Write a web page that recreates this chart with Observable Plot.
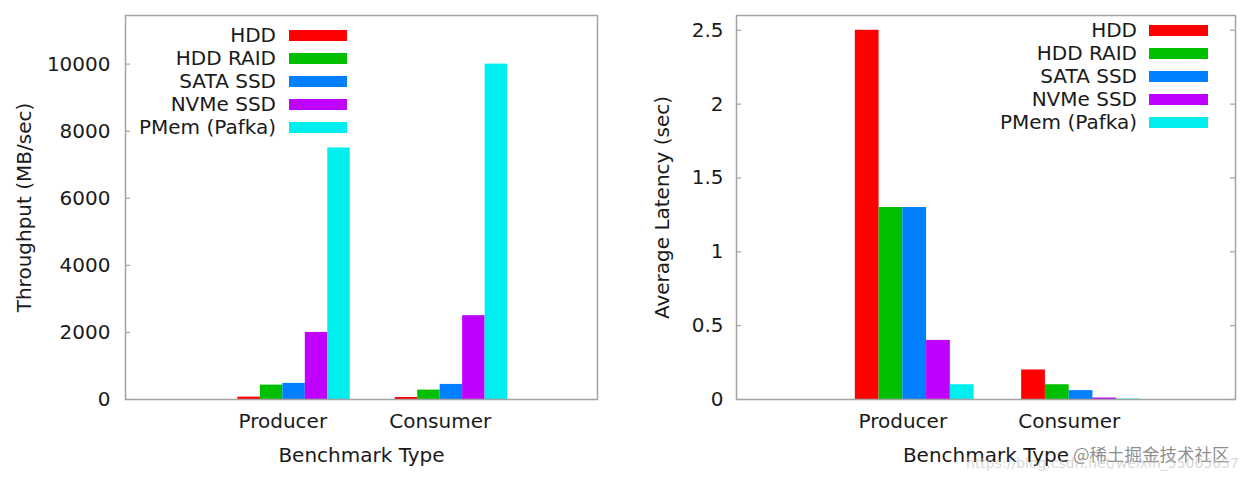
<!DOCTYPE html>
<html>
<head>
<meta charset="utf-8">
<script src="https://cdn.jsdelivr.net/npm/d3@7"></script>
<script src="https://cdn.jsdelivr.net/npm/@observablehq/plot@0.6"></script>
<style>
  html, body { margin: 0; padding: 0; background: #ffffff; }
  #wrap { position: relative; width: 1248px; height: 481px; display: flex; overflow: hidden;
          font-family: "DejaVu Sans", sans-serif; color: #1a1a1a; }
  .panel { position: relative; }
  .legend { position: absolute; top: 0; left: 0; }
  .row { position: absolute; height: 23px; display: flex; align-items: center; }
  .row .lbl { font-size: 20px; text-align: right; white-space: nowrap; }
  .row .sw { position: absolute; height: 11px; }
  .wm1 { position: absolute; font-family: "Noto Sans CJK SC", sans-serif; font-size: 17.5px; color: rgba(120,120,120,0.85); white-space: nowrap; }
  .wm2 { position: absolute; font-family: "DejaVu Sans", sans-serif; font-size: 14px; color: rgba(190,190,190,0.6); white-space: nowrap; }
</style>
</head>
<body>
<div id="wrap"></div>
<script>
// ---- data ----
const categories = ["Producer", "Consumer"];
const series = ["HDD", "HDD RAID", "SATA SSD", "NVMe SSD", "PMem (Pafka)"];
const colors = ["#ff0000", "#00c000", "#0080ff", "#c000ff", "#00eeee"];
const throughputProducer = [70, 430, 480, 2000, 7500];
const throughputConsumer = [60, 280, 450, 2500, 10000];
const latencyProducer = [2.5, 1.3, 1.3, 0.4, 0.1];
const latencyConsumer = [0.2, 0.1, 0.06, 0.01, 0.003];
const throughputTicks = [0, 2000, 4000, 6000, 8000, 10000];
const latencyTicks = [0, 0.5, 1, 1.5, 2, 2.5];
const xTitle = "Benchmark Type";
const throughputTitle = "Throughput (MB/sec)";
const latencyTitle = "Average Latency (sec)";
const watermarkText = "@稀土掘金技术社区";
const watermarkUrl = "https://blog.csdn.net/weixin_55005657";

function toRows(prod, cons) {
  const rows = [];
  [prod, cons].forEach((vals, gi) => {
    vals.forEach((v, si) => rows.push({group: gi, cat: categories[gi], s: si, series: series[si], value: v}));
  });
  return rows;
}

const FRAME = "#a3a3a3";
const nS = series.length;
const barW = 1 / (nS + 2);

function chart({rows, ticks, ymax, width, height, ml, mr, mt, mb, title, titleDx, tickPad, rightTicks}) {
  const innerW = width - ml - mr;
  const marks = [
    Plot.rect(rows, {
      x1: d => d.group - 2 * barW + d.s * barW,
      x2: d => d.group - 2 * barW + (d.s + 1) * barW,
      y1: 0,
      y2: "value",
      fill: "series"
    }),
    Plot.ruleY(ticks, {stroke: FRAME, strokeWidth: 1.2, insetRight: innerW - 5}),
    Plot.frame({stroke: FRAME, strokeWidth: 1.5}),
    Plot.axisY({ticks, tickSize: 0, tickPadding: tickPad, tickFormat: d => String(d), label: null, fontSize: 20}),
    Plot.text(categories, {x: (d, i) => i, frameAnchor: "bottom", lineAnchor: "middle", dy: 22, fontSize: 20}),
    Plot.text([xTitle], {frameAnchor: "bottom", lineAnchor: "middle", dy: 56, fontSize: 20}),
    Plot.text([title], {frameAnchor: "left", textAnchor: "middle", lineAnchor: "middle", dx: titleDx, rotate: -90, fontSize: 20})
  ];
  if (rightTicks) marks.splice(2, 0, Plot.ruleY(ticks, {stroke: FRAME, strokeWidth: 1.2, insetLeft: innerW - 5}));
  return Plot.plot({
    width, height,
    marginLeft: ml, marginRight: mr, marginTop: mt, marginBottom: mb,
    style: {fontFamily: "DejaVu Sans, sans-serif", fontSize: "20px", color: "#1a1a1a", background: "#ffffff", overflow: "visible"},
    x: {domain: [-1, 2], axis: null},
    y: {domain: [0, ymax], axis: null},
    color: {domain: series, range: colors},
    marks
  });
}

function legend(panel, textRight, swLeft, swWidth, top0) {
  const lg = document.createElement("div");
  lg.className = "legend";
  series.forEach((s, i) => {
    const row = document.createElement("div");
    row.className = "row";
    row.style.left = "0px";
    row.style.width = (swLeft + swWidth) + "px";
    row.style.top = (top0 + i * 23 - 11.5) + "px";
    const lbl = document.createElement("div");
    lbl.className = "lbl";
    lbl.style.position = "absolute";
    lbl.style.right = (swLeft + swWidth - textRight) + "px";
    lbl.textContent = s;
    const sw = document.createElement("div");
    sw.className = "sw";
    sw.style.left = swLeft + "px";
    sw.style.width = swWidth + "px";
    sw.style.top = "6px";
    sw.style.background = colors[i];
    row.appendChild(lbl);
    row.appendChild(sw);
    lg.appendChild(row);
  });
  panel.appendChild(lg);
}

const wrap = document.getElementById("wrap");

const p1 = document.createElement("div");
p1.className = "panel";
p1.appendChild(chart({
  rows: toRows(throughputProducer, throughputConsumer),
  ticks: throughputTicks, ymax: 11450,
  width: 620, height: 481, ml: 125, mr: 23, mt: 15, mb: 82,
  title: throughputTitle, titleDx: -101, tickPad: 15, rightTicks: false
}));
legend(p1, 276, 289, 58, 35.3);
wrap.appendChild(p1);

const p2 = document.createElement("div");
p2.className = "panel";
p2.appendChild(chart({
  rows: toRows(latencyProducer, latencyConsumer),
  ticks: latencyTicks, ymax: 2.6,
  width: 628, height: 481, ml: 116, mr: 13, mt: 15, mb: 82,
  title: latencyTitle, titleDx: -74, tickPad: 13, rightTicks: true
}));
legend(p2, 517, 529, 59, 30);
wrap.appendChild(p2);

const w1 = document.createElement("div");
w1.className = "wm1";
w1.style.left = "1073px";
w1.style.top = "441px";
w1.textContent = watermarkText;
wrap.appendChild(w1);

const w2 = document.createElement("div");
w2.className = "wm2";
w2.style.left = "966px";
w2.style.top = "455px";
w2.textContent = watermarkUrl;
wrap.appendChild(w2);
</script>
</body>
</html>
